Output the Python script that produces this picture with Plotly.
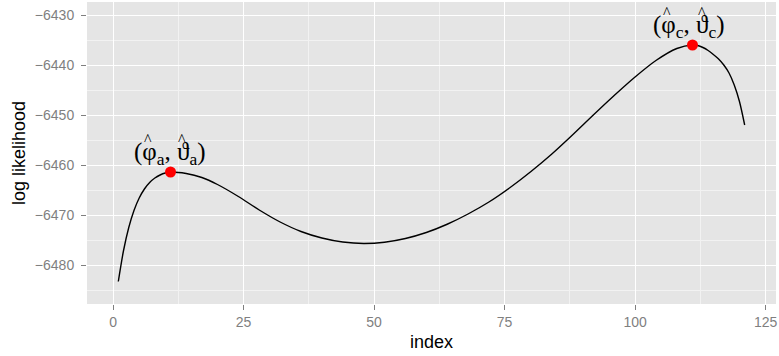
import plotly.graph_objects as go

# Profile log likelihood along the search path
index = [1, 2, 3, 4, 5, 6, 7, 8, 9, 10, 11, 14, 17, 20, 24, 28, 32, 36, 40,
         44, 48, 52, 56, 60, 64, 68, 72, 76, 80, 84, 88, 92, 96, 100, 104,
         108, 111, 112, 113, 114, 115, 116, 117, 118, 119, 120, 121]
loglik = [-6483.2, -6477.0, -6472.4, -6469.0, -6466.5, -6464.7, -6463.4,
          -6462.5, -6461.9, -6461.5, -6461.3, -6461.6, -6462.4, -6463.8,
          -6466.2, -6468.9, -6471.3, -6473.2, -6474.5, -6475.3, -6475.6,
          -6475.35, -6474.6, -6473.4, -6471.75, -6469.7, -6467.3, -6464.45,
          -6461.25, -6457.75, -6453.9, -6449.9, -6446.0, -6442.3, -6439.0,
          -6436.6, -6435.9, -6436.0, -6436.4, -6437.0, -6437.8, -6438.7,
          -6439.9, -6441.5, -6443.9, -6447.2, -6451.9]

# Local maxima and their labels
peak_index = [11, 111]
peak_loglik = [-6461.3, -6435.9]
peak_labels = ["(φ<sub>a</sub>, ϑ<sub>a</sub>)",
               "(φ<sub>c</sub>, ϑ<sub>c</sub>)"]
label_xshift = [-1, -3]
# hats over φ and ϑ, pixel offsets from the label centre
hat_offsets = (-22.0, 12.5)

x_ticks = [0, 25, 50, 75, 100, 125]
y_ticks = [-6480, -6470, -6460, -6450, -6440, -6430]

fig = go.Figure()
fig.add_trace(go.Scatter(
    x=index, y=loglik, mode="lines",
    line=dict(color="black", width=1.4, shape="spline", smoothing=0.8),
    hoverinfo="skip", showlegend=False,
))
fig.add_trace(go.Scatter(
    x=peak_index, y=peak_loglik, mode="markers",
    marker=dict(color="#FF0000", size=11),
    showlegend=False,
))

label_font = dict(family="Liberation Serif", size=25, color="black")
hat_font = dict(family="Liberation Serif", size=16, color="black")
for xi, yi, lab, xs in zip(peak_index, peak_loglik, peak_labels, label_xshift):
    fig.add_annotation(
        x=xi, y=yi, xref="x", yref="y", text=lab, showarrow=False,
        yanchor="middle", xshift=xs, yshift=19, borderpad=0,
        font=label_font,
    )
    for dx in hat_offsets:
        fig.add_annotation(
            x=xi, y=yi, xref="x", yref="y", text="^", showarrow=False,
            yanchor="middle", xshift=xs + dx, yshift=32.5, borderpad=0,
            font=hat_font,
        )

axis_common = dict(
    showline=False, zeroline=False,
    gridcolor="#FFFFFF", gridwidth=1.1,
    ticks="outside", ticklen=5, tickwidth=1, tickcolor="#7F7F7F",
    tickfont=dict(family="Liberation Sans", size=14, color="#7F7F7F"),
)

fig.update_xaxes(
    **axis_common,
    range=[-5, 127], tickvals=x_ticks, ticktext=[str(v) for v in x_ticks],
    minor=dict(dtick=12.5, tick0=0, showgrid=True, gridcolor="#F2F2F2",
               gridwidth=0.6, ticks=""),
    title=dict(text="index", standoff=6,
               font=dict(family="Liberation Sans", size=18, color="black")),
)
fig.update_yaxes(
    **axis_common,
    range=[-6487.7, -6427.3], tickvals=y_ticks,
    ticktext=["\u2212" + str(abs(v)) for v in y_ticks],
    ticklabelstandoff=4,
    minor=dict(dtick=10, tick0=-6425, showgrid=True, gridcolor="#F2F2F2",
               gridwidth=0.6, ticks=""),
    title=dict(text="log likelihood", standoff=4,
               font=dict(family="Liberation Sans", size=18, color="black")),
)

fig.update_layout(
    width=779, height=356,
    margin=dict(l=87, r=3, t=2, b=52),
    plot_bgcolor="#E5E5E5", paper_bgcolor="#FFFFFF",
)

fig.write_html("out.html")
